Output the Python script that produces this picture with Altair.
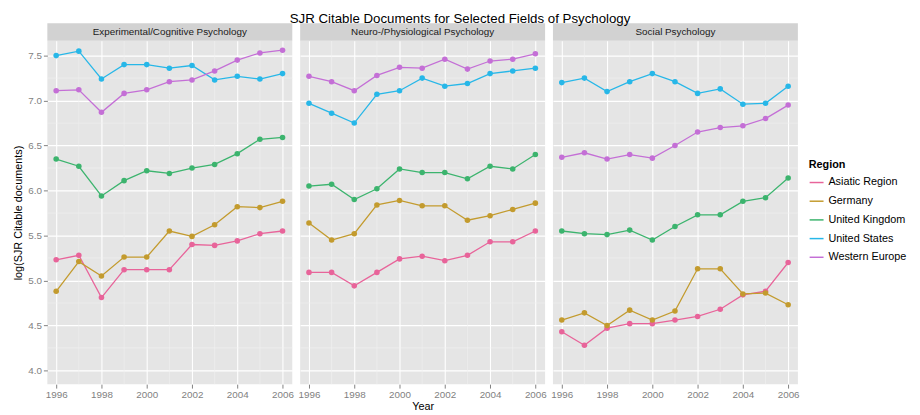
import altair as alt
import pandas as pd

years = list(range(1996, 2007))
fields = ["Experimental/Cognitive Psychology", "Neuro-/Physiological Psychology", "Social Psychology"]
regions = ["Asiatic Region", "Germany", "United Kingdom", "United States", "Western Europe"]
colors = ["#E8649A", "#C39B2E", "#3CB46E", "#27B7E8", "#C46FD6"]

# Experimental/Cognitive Psychology
exp_asia = [5.23, 5.28, 4.81, 5.12, 5.12, 5.12, 5.40, 5.39, 5.44, 5.52, 5.55]
exp_ger = [4.88, 5.21, 5.05, 5.26, 5.26, 5.55, 5.49, 5.62, 5.82, 5.81, 5.88]
exp_uk = [6.35, 6.27, 5.94, 6.11, 6.22, 6.19, 6.25, 6.29, 6.41, 6.57, 6.59]
exp_us = [7.50, 7.55, 7.24, 7.40, 7.40, 7.36, 7.39, 7.23, 7.27, 7.24, 7.30]
exp_we = [7.11, 7.12, 6.87, 7.08, 7.12, 7.21, 7.23, 7.33, 7.45, 7.53, 7.56]

# Neuro-/Physiological Psychology
neu_asia = [5.09, 5.09, 4.94, 5.09, 5.24, 5.27, 5.22, 5.28, 5.43, 5.43, 5.55]
neu_ger = [5.64, 5.45, 5.52, 5.84, 5.89, 5.83, 5.83, 5.67, 5.72, 5.79, 5.86]
neu_uk = [6.05, 6.07, 5.90, 6.02, 6.24, 6.20, 6.20, 6.13, 6.27, 6.24, 6.40]
neu_us = [6.97, 6.86, 6.75, 7.07, 7.11, 7.25, 7.16, 7.19, 7.30, 7.33, 7.36]
neu_we = [7.27, 7.21, 7.11, 7.28, 7.37, 7.36, 7.46, 7.35, 7.44, 7.46, 7.52]

# Social Psychology
soc_asia = [4.43, 4.28, 4.47, 4.52, 4.52, 4.56, 4.60, 4.68, 4.84, 4.88, 5.20]
soc_ger = [4.56, 4.64, 4.50, 4.67, 4.56, 4.66, 5.13, 5.13, 4.85, 4.86, 4.73]
soc_uk = [5.55, 5.52, 5.51, 5.56, 5.45, 5.60, 5.73, 5.73, 5.88, 5.92, 6.14]
soc_us = [7.20, 7.25, 7.10, 7.21, 7.30, 7.21, 7.08, 7.13, 6.96, 6.97, 7.16]
soc_we = [6.37, 6.42, 6.35, 6.40, 6.36, 6.50, 6.65, 6.70, 6.72, 6.80, 6.95]

series = {
    fields[0]: [exp_asia, exp_ger, exp_uk, exp_us, exp_we],
    fields[1]: [neu_asia, neu_ger, neu_uk, neu_us, neu_we],
    fields[2]: [soc_asia, soc_ger, soc_uk, soc_us, soc_we],
}

x_major = [1996, 1998, 2000, 2002, 2004, 2006]
x_minor = [1997, 1999, 2001, 2003, 2005]
y_major = [4.0, 4.5, 5.0, 5.5, 6.0, 6.5, 7.0, 7.5]
y_minor = [4.25, 4.75, 5.25, 5.75, 6.25, 6.75, 7.25]

rows = []
for f in fields:
    for r, vals in zip(regions, series[f]):
        for yr, v in zip(years, vals):
            rows.append({"Field": f, "Region": r, "Year": yr, "Value": v})
df = pd.DataFrame(rows)

W, H = 249, 349
xscale = alt.Scale(domain=[1995.61, 2006.43], nice=False, zero=False)
yscale = alt.Scale(domain=[3.847, 7.664], nice=False, zero=False)
cscale = alt.Scale(domain=regions, range=colors)


def panel(i, field):
    first = i == 0
    middle = i == 1
    xaxis = alt.Axis(values=x_major, format="d", title="Year" if middle else "",
                     labelOverlap=False, labelFlush=False, labelBound=False)
    if first:
        yaxis = alt.Axis(values=y_major, format=".1f", title="log(SJR Citable documents)")
    else:
        yaxis = alt.Axis(values=y_major, labels=False, ticks=False, title="")

    xminor = alt.Chart(pd.DataFrame({"v": x_minor})).mark_rule(
        color="#f2f2f2", strokeWidth=0.6).encode(x=alt.X("v:Q", scale=xscale, axis=xaxis))
    yminor = alt.Chart(pd.DataFrame({"v": y_minor})).mark_rule(
        color="#f2f2f2", strokeWidth=0.6).encode(y=alt.Y("v:Q", scale=yscale, axis=yaxis))

    base = alt.Chart(df).transform_filter(alt.datum.Field == field)
    enc = dict(
        x=alt.X("Year:Q", scale=xscale, axis=xaxis),
        y=alt.Y("Value:Q", scale=yscale, axis=yaxis),
        color=alt.Color("Region:N", scale=cscale,
                        legend=alt.Legend(title="Region", orient="none",
                                          legendX=774, legendY=120,
                                          symbolType="stroke", symbolStrokeWidth=1.5,
                                          symbolSize=200, rowPadding=6,
                                          titleFontSize=11, titleFontWeight="bold",
                                          labelFontSize=11, titlePadding=5)),
    )
    lines = base.mark_line(strokeWidth=1.3).encode(**enc)
    pts = base.mark_circle(size=32, opacity=1).encode(**enc)

    sdf = pd.DataFrame({"f": [field]})
    strip = alt.Chart(sdf).mark_rect(color="#d2d2d2").encode(
        x=alt.value(0), x2=alt.value(W), y=alt.value(-18), y2=alt.value(0))
    stext = alt.Chart(sdf).mark_text(fontSize=10, color="#1a1a1a", baseline="middle").encode(
        x=alt.value(W / 2), y=alt.value(-9), text="f:N")

    return alt.layer(xminor, yminor, lines, pts, strip, stext).properties(width=W, height=H)


chart = alt.hconcat(*[panel(i, f) for i, f in enumerate(fields)], spacing=3).properties(
    title=alt.TitleParams("SJR Citable Documents for Selected Fields of Psychology",
                          fontSize=13.5, fontWeight="normal", color="#000000",
                          anchor="middle", offset=-2, font="Liberation Sans"),
    padding={"left": 5, "top": 0, "right": 5, "bottom": 5},
).configure(font="Liberation Sans").configure_view(
    fill="#e5e5e5", stroke=None
).configure_axis(
    gridColor="#ffffff", gridWidth=1.1, domain=False,
    tickColor="#7f7f7f", tickSize=4, labelColor="#7f7f7f", labelFontSize=10,
    titleFontSize=11, titleFontWeight="normal", titleColor="#000000", labelPadding=2
).configure_axisX(titlePadding=1)

chart.save("out.html", embed_options={"renderer": "svg", "actions": False})
